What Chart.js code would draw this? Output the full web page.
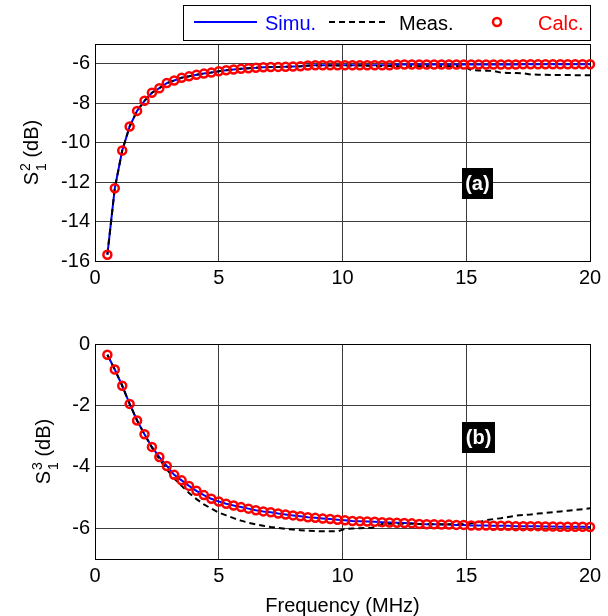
<!DOCTYPE html>
<html>
<head>
<meta charset="utf-8">
<script src="https://cdn.jsdelivr.net/npm/chart.js@4.4.0/dist/chart.umd.min.js"></script>
<style>
  body { margin: 0; background: #fff; }
  #wrap { position: relative; width: 608px; height: 616px; }
  canvas { position: absolute; left: 0; }
</style>
</head>
<body>
<div id="wrap">
  <canvas id="chartA" width="608" height="300" style="top:0"></canvas>
  <canvas id="chartB" width="608" height="316" style="top:300px"></canvas>
</div>
<script>
// frequency grid (MHz)
const freq = [0.5, 0.8, 1.1, 1.4, 1.7, 2.0, 2.3, 2.6, 2.9, 3.2, 3.5, 3.8, 4.1, 4.4, 4.7,
  5.0, 5.3, 5.6, 5.9, 6.2, 6.5, 6.8, 7.1, 7.4, 7.7, 8.0, 8.3, 8.6, 8.9, 9.2, 9.5, 9.8,
  10.1, 10.4, 10.7, 11.0, 11.3, 11.6, 11.9, 12.2, 12.5, 12.8, 13.1, 13.4, 13.7, 14.0,
  14.3, 14.6, 14.9, 15.2, 15.5, 15.8, 16.1, 16.4, 16.7, 17.0, 17.3, 17.6, 17.9, 18.2,
  18.5, 18.8, 19.1, 19.4, 19.7, 20.0];

// (a) S1^2
const simuA = [-15.68, -12.31, -10.40, -9.18, -8.39, -7.88, -7.47, -7.24, -6.98, -6.85,
  -6.71, -6.64, -6.56, -6.50, -6.45, -6.38, -6.33, -6.29, -6.26, -6.23, -6.21, -6.18,
  -6.17, -6.16, -6.15, -6.14, -6.13, -6.09, -6.08, -6.08, -6.08, -6.08, -6.08, -6.08,
  -6.08, -6.08, -6.08, -6.08, -6.08, -6.04, -6.04, -6.04, -6.04, -6.04, -6.04, -6.04,
  -6.04, -6.04, -6.04, -6.04, -6.04, -6.04, -6.04, -6.04, -6.04, -6.04, -6.03, -6.03,
  -6.03, -6.03, -6.03, -6.03, -6.03, -6.03, -6.03, -6.03];
const measA = [-15.68, -12.31, -10.40, -9.18, -8.39, -7.88, -7.47, -7.24, -6.98, -6.85,
  -6.71, -6.64, -6.56, -6.50, -6.45, -6.38, -6.33, -6.29, -6.26, -6.23, -6.21, -6.18,
  -6.17, -6.16, -6.15, -6.14, -6.13, -6.10, -6.09, -6.09, -6.09, -6.09, -6.09, -6.09,
  -6.09, -6.10, -6.11, -6.12, -6.12, -6.13, -6.13, -6.13, -6.13, -6.13, -6.13, -6.13,
  -6.13, -6.13, -6.13, -6.33, -6.34, -6.35, -6.36, -6.45, -6.47, -6.47, -6.48, -6.54,
  -6.56, -6.56, -6.57, -6.57, -6.57, -6.58, -6.58, -6.58];
const calcA = [-15.68, -12.31, -10.40, -9.18, -8.39, -7.88, -7.47, -7.24, -6.98, -6.85,
  -6.71, -6.64, -6.56, -6.50, -6.45, -6.38, -6.33, -6.29, -6.26, -6.23, -6.21, -6.18,
  -6.17, -6.16, -6.15, -6.14, -6.13, -6.09, -6.08, -6.08, -6.08, -6.08, -6.08, -6.08,
  -6.08, -6.08, -6.08, -6.08, -6.08, -6.04, -6.04, -6.04, -6.04, -6.04, -6.04, -6.04,
  -6.04, -6.04, -6.04, -6.04, -6.04, -6.04, -6.04, -6.04, -6.04, -6.04, -6.03, -6.03,
  -6.03, -6.03, -6.03, -6.03, -6.03, -6.03, -6.03, -6.03];

// (b) S1^3
const simuB = [-0.35, -0.83, -1.36, -1.95, -2.49, -2.94, -3.35, -3.68, -3.97, -4.26,
  -4.44, -4.62, -4.78, -4.92, -5.04, -5.13, -5.20, -5.26, -5.31, -5.36, -5.41, -5.45,
  -5.48, -5.52, -5.55, -5.58, -5.61, -5.64, -5.66, -5.68, -5.70, -5.72, -5.74, -5.76,
  -5.77, -5.78, -5.79, -5.80, -5.81, -5.82, -5.83, -5.84, -5.86, -5.87, -5.87, -5.88,
  -5.88, -5.89, -5.89, -5.91, -5.91, -5.91, -5.92, -5.92, -5.92, -5.93, -5.93, -5.93,
  -5.93, -5.94, -5.94, -5.95, -5.95, -5.95, -5.95, -5.96];
const measB = [-0.35, -0.83, -1.36, -1.95, -2.49, -2.94, -3.38, -3.75, -4.08, -4.38,
  -4.62, -4.85, -5.05, -5.22, -5.36, -5.49, -5.58, -5.67, -5.75, -5.82, -5.87, -5.92,
  -5.96, -5.99, -6.02, -6.04, -6.06, -6.08, -6.09, -6.10, -6.10, -6.10, -6.02, -6.01,
  -6.00, -5.99, -5.97, -5.86, -5.85, -5.85, -5.85, -5.85, -5.86, -5.87, -5.87, -5.87,
  -5.87, -5.87, -5.86, -5.84, -5.80, -5.74, -5.70, -5.67, -5.63, -5.59, -5.57, -5.55,
  -5.52, -5.50, -5.48, -5.45, -5.43, -5.40, -5.38, -5.35];
const calcB = [-0.35, -0.83, -1.36, -1.95, -2.49, -2.94, -3.35, -3.68, -3.97, -4.26,
  -4.44, -4.62, -4.78, -4.92, -5.04, -5.13, -5.20, -5.26, -5.31, -5.36, -5.41, -5.45,
  -5.48, -5.52, -5.55, -5.58, -5.61, -5.64, -5.66, -5.68, -5.70, -5.72, -5.74, -5.76,
  -5.77, -5.78, -5.79, -5.80, -5.81, -5.82, -5.83, -5.84, -5.86, -5.87, -5.87, -5.88,
  -5.88, -5.89, -5.89, -5.91, -5.91, -5.91, -5.92, -5.92, -5.92, -5.93, -5.93, -5.93,
  -5.93, -5.94, -5.94, -5.95, -5.95, -5.95, -5.95, -5.96];

const xTicks = [0, 5, 10, 15, 20];
const yTicksA = [-16, -14, -12, -10, -8, -6];
const yTicksB = [-6, -4, -2, 0];
const legendNames = ['Simu.', 'Meas.', 'Calc.'];

const FONT = '"Liberation Sans", Arial, Helvetica, sans-serif';
const BLUE = '#0000ff', RED = '#ff0000';

const pts = (ys) => freq.map((f, i) => ({x: f, y: ys[i]}));

// frame, y label with stacked indices, panel tag, legend box, x title
const decor = {
  id: 'decor',
  beforeDatasetsDraw(chart) {
    const {ctx, chartArea: a} = chart;
    ctx.save();
    ctx.strokeStyle = '#000';
    ctx.lineWidth = 1;
    ctx.strokeRect(a.left + 0.5, a.top + 0.5, a.right - a.left, a.bottom - a.top);
    ctx.restore();
  },
  afterDraw(chart, args, opts) {
    const {ctx, chartArea: a} = chart;
    const xs = chart.scales.x, ys = chart.scales.y;

    // y axis label: S with sup/sub stacked
    const yl = opts.ylabel;
    ctx.save();
    ctx.translate(yl.x, (a.top + a.bottom) / 2);
    ctx.rotate(-Math.PI / 2);
    ctx.fillStyle = '#000';
    ctx.textBaseline = 'alphabetic';
    ctx.textAlign = 'left';
    ctx.font = `20px ${FONT}`;
    const wS = ctx.measureText('S').width;
    const wRest = ctx.measureText(' (dB)').width;
    ctx.font = `14px ${FONT}`;
    const wIdx = Math.max(ctx.measureText(yl.sup).width, ctx.measureText(yl.sub).width);
    const x0 = -(wS + 1 + wIdx + wRest) / 2;
    ctx.font = `20px ${FONT}`;
    ctx.fillText('S', x0, 0);
    ctx.font = `14px ${FONT}`;
    ctx.fillText(yl.sup, x0 + wS + 1, -7.5);
    ctx.fillText(yl.sub, x0 + wS + 1, 8);
    ctx.font = `20px ${FONT}`;
    ctx.fillText(' (dB)', x0 + wS + 1 + wIdx, 0);
    ctx.restore();

    // panel tag
    const t = opts.tag;
    const cx = xs.getPixelForValue(t.x), cy = ys.getPixelForValue(t.y);
    ctx.save();
    ctx.font = `bold 20px ${FONT}`;
    const tw = ctx.measureText(t.text).width + 7;
    ctx.fillStyle = '#000';
    ctx.fillRect(Math.round(cx - tw / 2), Math.round(cy - 15.5), Math.round(tw), 31);
    ctx.fillStyle = '#fff';
    ctx.textAlign = 'center';
    ctx.textBaseline = 'middle';
    ctx.fillText(t.text, cx, cy + 1);
    ctx.restore();

    // legend
    if (opts.legend) {
      const ds = chart.data.datasets;
      const L = opts.legend;
      ctx.save();
      ctx.fillStyle = '#fff';
      ctx.fillRect(L.left, L.top, L.width, L.height);
      ctx.strokeStyle = '#000';
      ctx.lineWidth = 1;
      ctx.strokeRect(L.left + 0.5, L.top + 0.5, L.width, L.height);
      const yc = L.top + 17;
      ctx.font = `20px ${FONT}`;
      ctx.textBaseline = 'alphabetic';
      // Simu
      ctx.strokeStyle = ds[0].borderColor;
      ctx.lineWidth = ds[0].borderWidth;
      ctx.beginPath(); ctx.moveTo(194, yc); ctx.lineTo(257, yc); ctx.stroke();
      ctx.fillStyle = BLUE;
      ctx.fillText(legendNames[0], 265, yc + 8);
      // Meas
      ctx.strokeStyle = ds[1].borderColor;
      ctx.lineWidth = ds[1].borderWidth;
      ctx.setLineDash(ds[1].borderDash);
      ctx.beginPath(); ctx.moveTo(329, yc); ctx.lineTo(387, yc); ctx.stroke();
      ctx.setLineDash([]);
      ctx.fillStyle = '#000';
      ctx.fillText(legendNames[1], 399, yc + 8);
      // Calc
      ctx.strokeStyle = RED;
      ctx.lineWidth = ds[2].pointBorderWidth;
      ctx.beginPath(); ctx.arc(497, yc, ds[2].pointRadius, 0, Math.PI * 2); ctx.stroke();
      ctx.fillStyle = RED;
      ctx.fillText(legendNames[2], 538, yc + 8);
      ctx.restore();
    }

    // x axis title
    if (opts.xtitle) {
      ctx.save();
      ctx.font = `20px ${FONT}`;
      ctx.fillStyle = '#000';
      ctx.textAlign = 'center';
      ctx.textBaseline = 'alphabetic';
      ctx.fillText(opts.xtitle.text, (a.left + a.right) / 2, opts.xtitle.y);
      ctx.restore();
    }
  }
};

function makeChart(id, simu, meas, calc, yMin, yMax, yTicks, xHeight, decorOpts) {
  return new Chart(document.getElementById(id), {
    type: 'line',
    data: {
      datasets: [
        { label: legendNames[0], data: pts(simu), borderColor: BLUE, borderWidth: 2,
          pointRadius: 0, order: 2 },
        { label: legendNames[1], data: pts(meas), borderColor: '#000', borderWidth: 2,
          borderDash: [6, 4], pointRadius: 0, order: 1 },
        { label: legendNames[2], data: pts(calc), showLine: false, pointRadius: 4,
          pointBorderWidth: 2.5, pointBorderColor: RED, pointBackgroundColor: 'rgba(0,0,0,0)',
          borderColor: RED, clip: false, order: 0 }
      ]
    },
    options: {
      responsive: false,
      animation: false,
      events: [],
      layout: { padding: { top: 44, right: 18, left: 0, bottom: 0 } },
      plugins: { legend: { display: false }, tooltip: { enabled: false }, decor: decorOpts },
      scales: {
        x: {
          type: 'linear', min: 0, max: 20,
          afterBuildTicks: (s) => { s.ticks = xTicks.map(v => ({value: v})); },
          afterFit: (s) => { s.height = xHeight; },
          grid: { color: '#3c3c3c', lineWidth: 1, drawTicks: false },
          border: { display: false },
          ticks: { color: '#000', padding: 5, maxRotation: 0, font: { family: FONT, size: 20 } }
        },
        y: {
          type: 'linear', min: yMin, max: yMax,
          afterBuildTicks: (s) => { s.ticks = yTicks.map(v => ({value: v})); },
          afterFit: (s) => { s.width = 95; },
          grid: { color: '#3c3c3c', lineWidth: 1, drawTicks: false },
          border: { display: false },
          ticks: { color: '#000', padding: 5, font: { family: FONT, size: 20 } }
        }
      }
    },
    plugins: [decor]
  });
}

makeChart('chartA', simuA, measA, calcA, -16, -5, yTicksA, 39, {
  ylabel: { x: 37.5, sup: '2', sub: '1' },
  tag: { text: '(a)', x: 15.45, y: -12.08 },
  legend: { left: 183, top: 5, width: 407, height: 35 }
});

makeChart('chartB', simuB, measB, calcB, -7, 0, yTicksB, 57, {
  ylabel: { x: 49.5, sup: '3', sub: '1' },
  tag: { text: '(b)', x: 15.5, y: -3.03 },
  xtitle: { text: 'Frequency (MHz)', y: 312 }
});
</script>
</body>
</html>
